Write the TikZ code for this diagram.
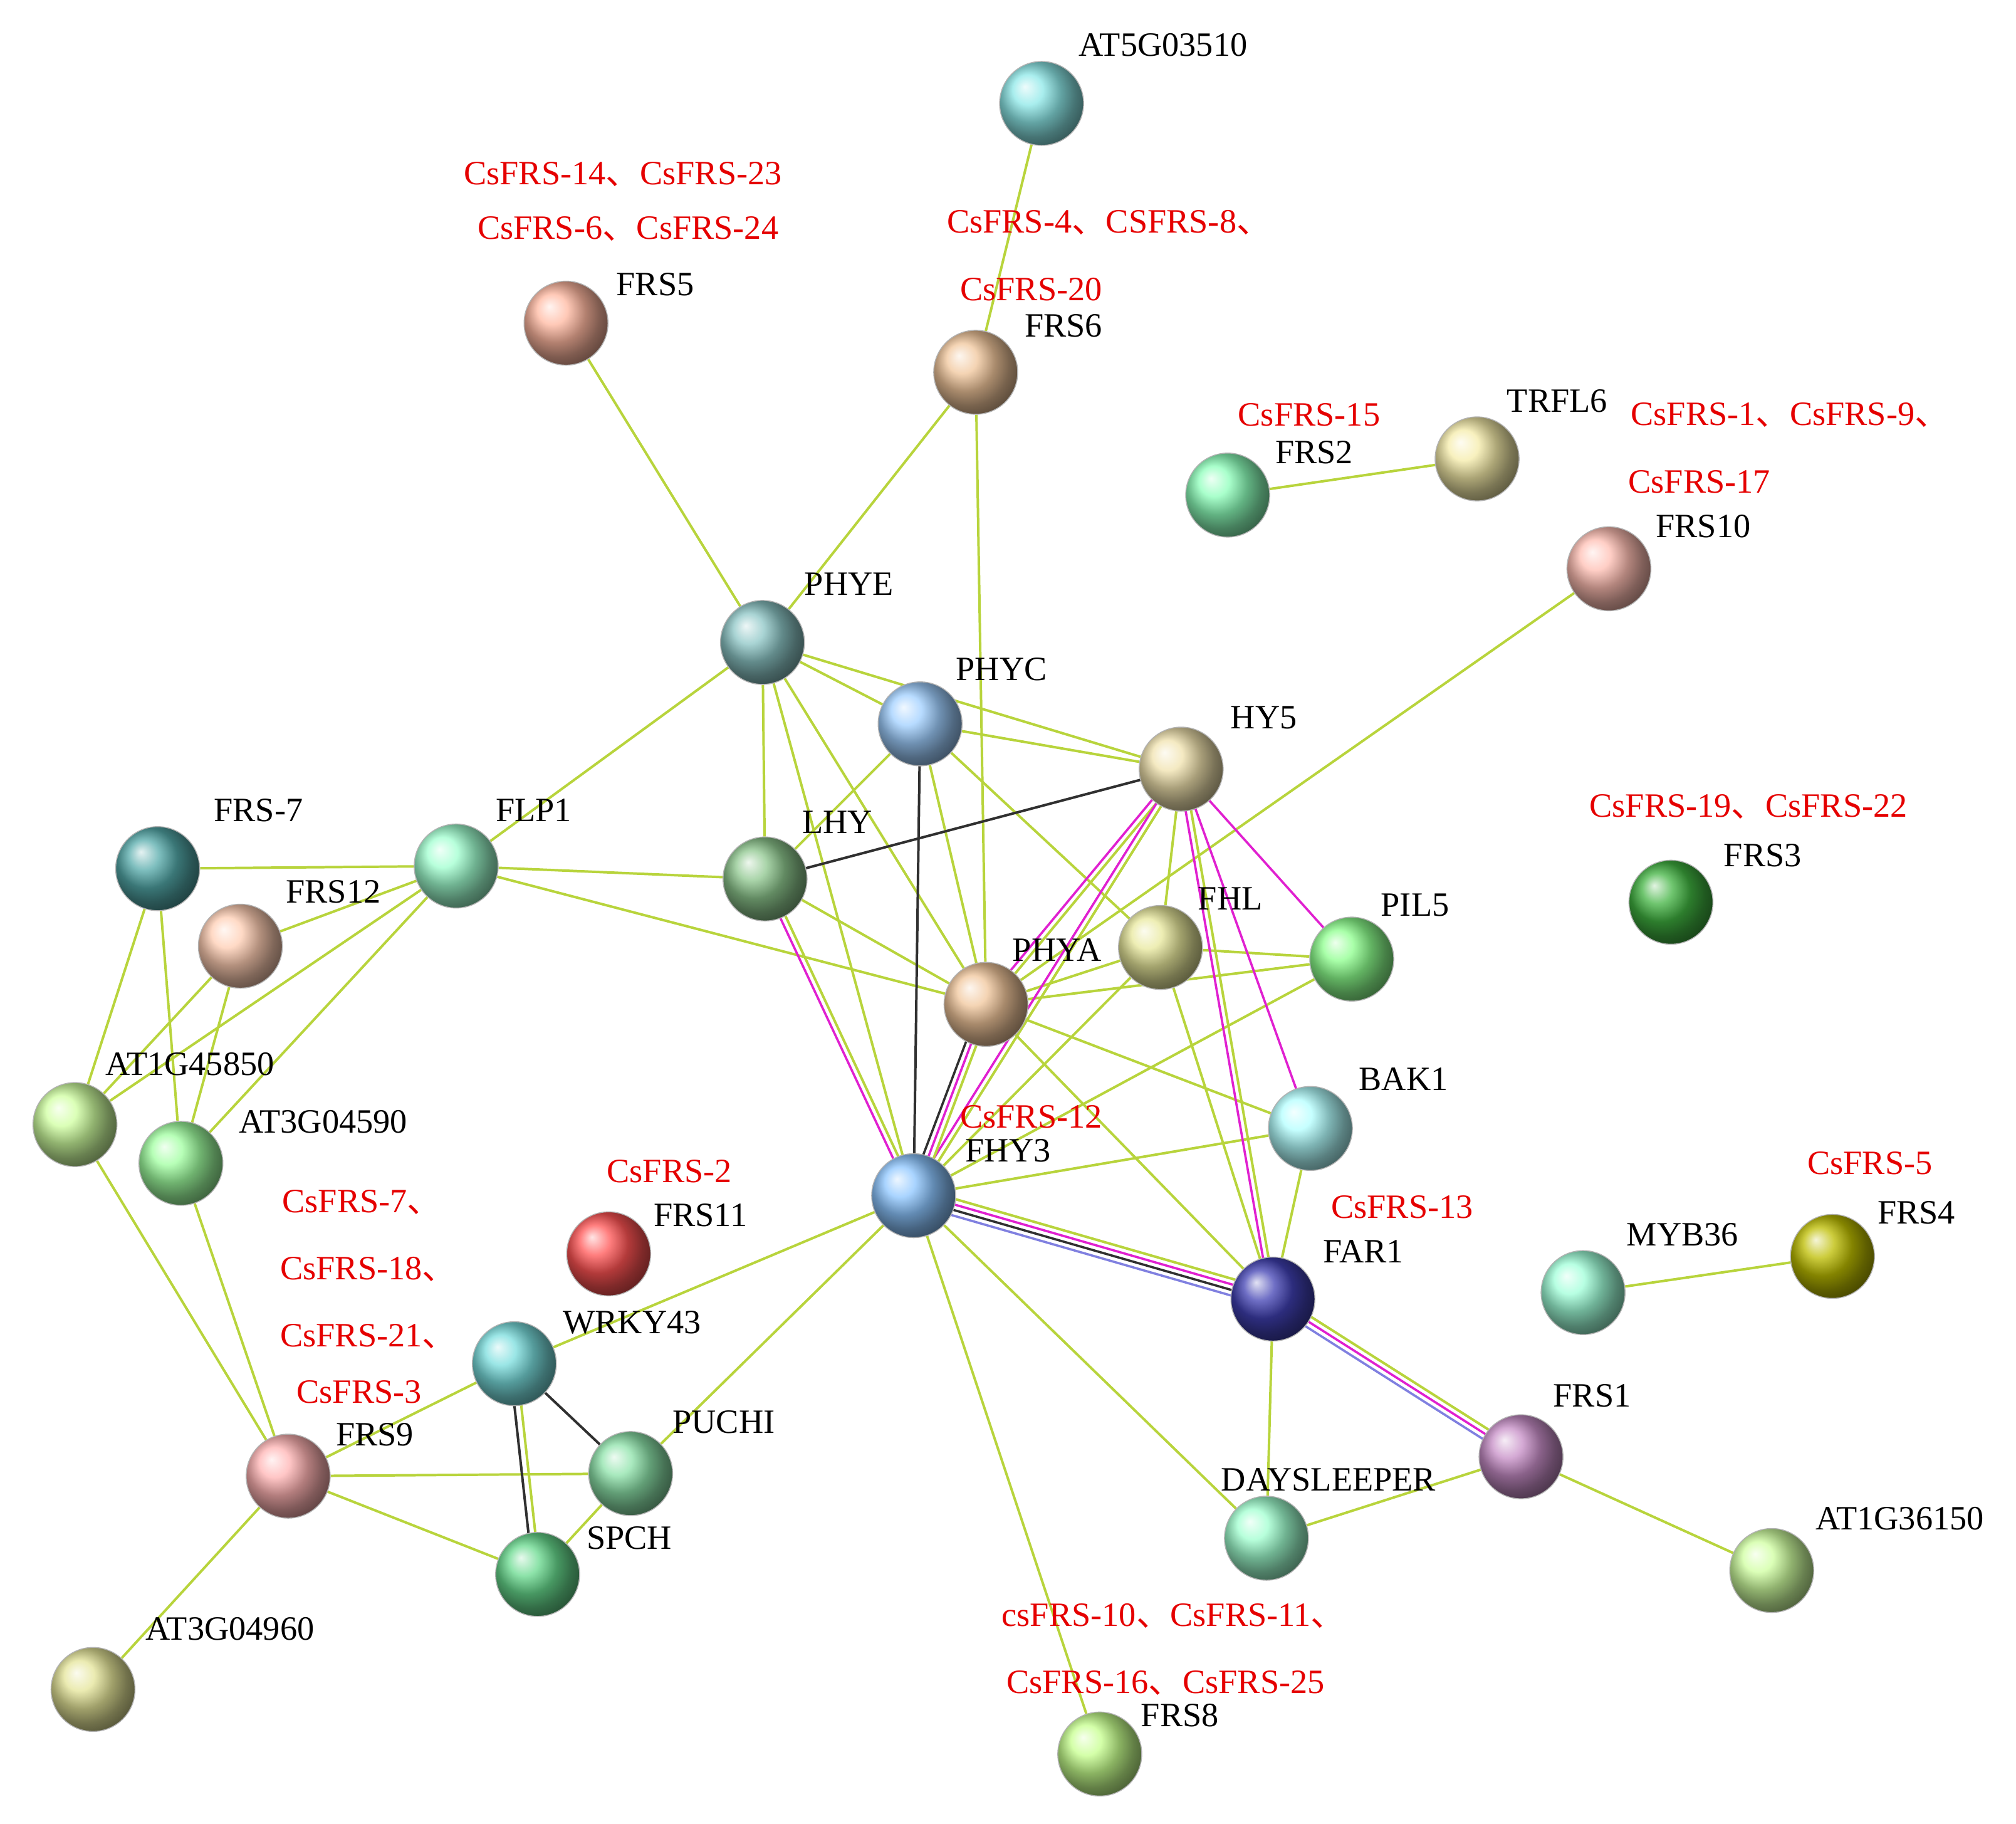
\documentclass[tikz,border=0pt]{standalone}
\usepackage{fontspec}
\setmainfont{Liberation Serif}
\newfontfamily\cjk{Noto Sans CJK SC}
\newcommand\dn{{\cjk 、}}
\usetikzlibrary{calc,backgrounds,shadings}
\definecolor{eg}{HTML}{B8D43C}
\definecolor{em}{HTML}{E020D0}
\definecolor{eb}{HTML}{8080E0}
\definecolor{ek}{HTML}{303030}
\newcommand\ml[4]{\draw[#4] ($(#1)!#3!90:(#2)$) -- ($(#2)!#3!-90:(#1)$);}
\begin{document}
\begin{tikzpicture}[x=0.02cm,y=-0.02cm,
  ball/.style={circle,minimum size=1.3cm,inner sep=0pt,/utils/exec={\colorlet{bc}{#1}},shading=ball,ball color=bc!75!white,draw=black!30,line width=0.4pt},
  lb/.style={font=\fontsize{15}{17}\selectfont,text=black},
  rl/.style={font=\fontsize{15}{17}\selectfont,text=red!90!black},
  e/.style={eg,line width=1.1pt}]
\useasboundingbox (0,0) rectangle (1560,1411);
\node[ball={teal!40!cyan!60}] (AT5) at (806,80) {};
\node[ball={red!50!orange!50}] (FRS5) at (438,250) {};
\node[ball={orange!50!brown!60}] (FRS6) at (755,288) {};
\node[ball={green!60!cyan!60}] (FRS2) at (950,383) {};
\node[ball={brown!40!yellow!50}] (TRFL6) at (1143,355) {};
\node[ball={orange!30!red!40}] (FRS10) at (1245,440) {};
\node[ball={teal!60}] (PHYE) at (590,497) {};
\node[ball={cyan!50!blue!50}] (PHYC) at (712,560) {};
\node[ball={yellow!40!brown!50}] (HY5) at (914,595) {};
\node[ball={teal!90}] (FRS7) at (122,672) {};
\node[ball={green!50!cyan!50}] (FLP1) at (353,670) {};
\node[ball={green!50!black!60}] (LHY) at (592,680) {};
\node[ball={red!30!orange!40}] (FRS12) at (186,732) {};
\node[ball={yellow!40!olive!40}] (FHL) at (898,733) {};
\node[ball={green!60}] (PIL5) at (1046,742) {};
\node[ball={orange!50!brown!60}] (PHYA) at (763,777) {};
\node[ball={green!60!black}] (FRS3) at (1293,698) {};
\node[ball={yellow!50!green!50}] (AT1G45) at (58,870) {};
\node[ball={green!50}] (AT3G0459) at (140,900) {};
\node[ball={cyan!40}] (BAK1) at (1014,873) {};
\node[ball={cyan!50!blue!60}] (FHY3) at (707,925) {};
\node[ball={red!90}] (FRS11) at (471,970) {};
\node[ball={blue!60!black}] (FAR1) at (985,1005) {};
\node[ball={green!40!cyan!50}] (MYB36) at (1225,1000) {};
\node[ball={olive!70!yellow}] (FRS4) at (1418,972) {};
\node[ball={teal!50!cyan!70}] (WRKY43) at (398,1055) {};
\node[ball={violet!60}] (FRS1) at (1177,1127) {};
\node[ball={teal!50!green!60}] (PUCHI) at (488,1140) {};
\node[ball={red!40}] (FRS9) at (223,1142) {};
\node[ball={green!50!cyan!50}] (DAY) at (980,1190) {};
\node[ball={green!50!teal!80}] (SPCH) at (416,1218) {};
\node[ball={yellow!50!green!50}] (AT1G36) at (1371,1215) {};
\node[ball={yellow!30!olive!40}] (AT3G0496) at (72,1307) {};
\node[ball={green!50!yellow!60}] (FRS8) at (851,1357) {};
\begin{scope}[on background layer]
\foreach \a/\b in {AT5/FRS6,FRS5/PHYE,FRS6/PHYE,FRS6/PHYA,FRS2/TRFL6,FRS10/PHYA,PHYE/PHYC,PHYE/HY5,PHYE/LHY,PHYE/FLP1,PHYE/FHY3,PHYE/PHYA,PHYC/LHY,PHYC/HY5,PHYC/FHL,PHYC/PHYA,LHY/FLP1,LHY/PHYA,FLP1/FRS7,FLP1/FRS12,FLP1/AT1G45,FLP1/AT3G0459,FLP1/PHYA,FRS7/AT1G45,FRS7/AT3G0459,FRS12/AT1G45,FRS12/AT3G0459,AT1G45/FRS9,AT3G0459/FRS9,HY5/FHL,FHL/PHYA,FHL/PIL5,FHL/FHY3,FHL/FAR1,PHYA/PIL5,PHYA/BAK1,PHYA/FAR1,PIL5/FHY3,BAK1/FHY3,BAK1/FAR1,FHY3/WRKY43,FHY3/PUCHI,FHY3/DAY,FHY3/FRS8,FAR1/DAY,FRS1/DAY,FRS1/AT1G36,MYB36/FRS4,WRKY43/FRS9,FRS9/PUCHI,FRS9/SPCH,FRS9/AT3G0496,PUCHI/SPCH}
  \draw[e] (\a) -- (\b);
\ml{PHYC}{FHY3}{0pt}{ek,line width=1.1pt}
\ml{LHY}{HY5}{0pt}{ek,line width=1.1pt}
\ml{WRKY43}{PUCHI}{0pt}{ek,line width=1.1pt}
\ml{WRKY43}{SPCH}{-2pt}{ek,line width=1.1pt}\ml{WRKY43}{SPCH}{1pt}{e}
\foreach \a/\b in {LHY/FHY3,HY5/PHYA,HY5/FAR1,HY5/FHY3}{\ml{\a}{\b}{-1.2pt}{em,line width=1pt}\ml{\a}{\b}{1.2pt}{e}}
\ml{HY5}{PIL5}{0pt}{em,line width=1pt}
\ml{HY5}{BAK1}{0pt}{em,line width=1pt}
\ml{PHYA}{FHY3}{-2.4pt}{ek,line width=1pt}\ml{PHYA}{FHY3}{0pt}{em,line width=1pt}\ml{PHYA}{FHY3}{2.4pt}{e}
\ml{FHY3}{FAR1}{-3.6pt}{eb,line width=1pt}\ml{FHY3}{FAR1}{-1.2pt}{ek,line width=1pt}\ml{FHY3}{FAR1}{1.2pt}{em,line width=1pt}\ml{FHY3}{FAR1}{3.6pt}{e}
\ml{FAR1}{FRS1}{-2.4pt}{eb,line width=1pt}\ml{FAR1}{FRS1}{0pt}{em,line width=1pt}\ml{FAR1}{FRS1}{2.4pt}{e}
\end{scope}
\foreach \n/\x/\y/\t in {a/900/35/AT5G03510,b/507/220/FRS5,c/823/252/FRS6,d/1017/350/FRS2,f/1205/310/TRFL6,g/1318/407/FRS10,h/657/452/PHYE,i/775/518/PHYC,j/978/555/HY5,k/200/627/FRS-7,l/413/627/FLP1,m/648/636/LHY,n/258/690/FRS12,o/952/695/FHL,p/1095/700/PIL5,q/818/735/PHYA,r/1364/662/FRS3,s/147/823/AT1G45850,t/250/868/AT3G04590,u/1086/835/BAK1,v/780/890/FHY3,w/542/940/FRS11,y/1055/968/FAR1,z/1302/955/MYB36,A/1483/938/FRS4,B/489/1023/WRKY43,C/1232/1080/FRS1,D/560/1100/PUCHI,E/290/1110/FRS9,F/1028/1145/DAYSLEEPER,G/487/1190/SPCH,H/1470/1175/AT1G36150,I/178/1260/AT3G04960,J/913/1327/FRS8}
  \node[lb] (L\n) at (\x,\y) {\t};
\foreach \n/\x/\y/\t in {a/482/135/CsFRS-14\dn CsFRS-23,b/486/177/CsFRS-6\dn CsFRS-24,c/858/172/CsFRS-4\dn CSFRS-8\dn,d/798/224/CsFRS-20,f/1013/321/CsFRS-15,g/1385/321/CsFRS-1\dn CsFRS-9\dn,h/1315/373/CsFRS-17,i/1353/624/CsFRS-19\dn CsFRS-22,j/798/864/CsFRS-12,k/518/906/CsFRS-2,l/1085/934/CsFRS-13,m/1447/900/CsFRS-5,n/280/930/CsFRS-7\dn,o/285/982/CsFRS-18\dn,p/285/1034/CsFRS-21\dn,q/278/1077/CsFRS-3,r/908/1250/csFRS-10\dn CsFRS-11\dn,s/902/1302/CsFRS-16\dn CsFRS-25}
  \node[rl] (R\n) at (\x,\y) {\t};
\end{tikzpicture}
\end{document}
